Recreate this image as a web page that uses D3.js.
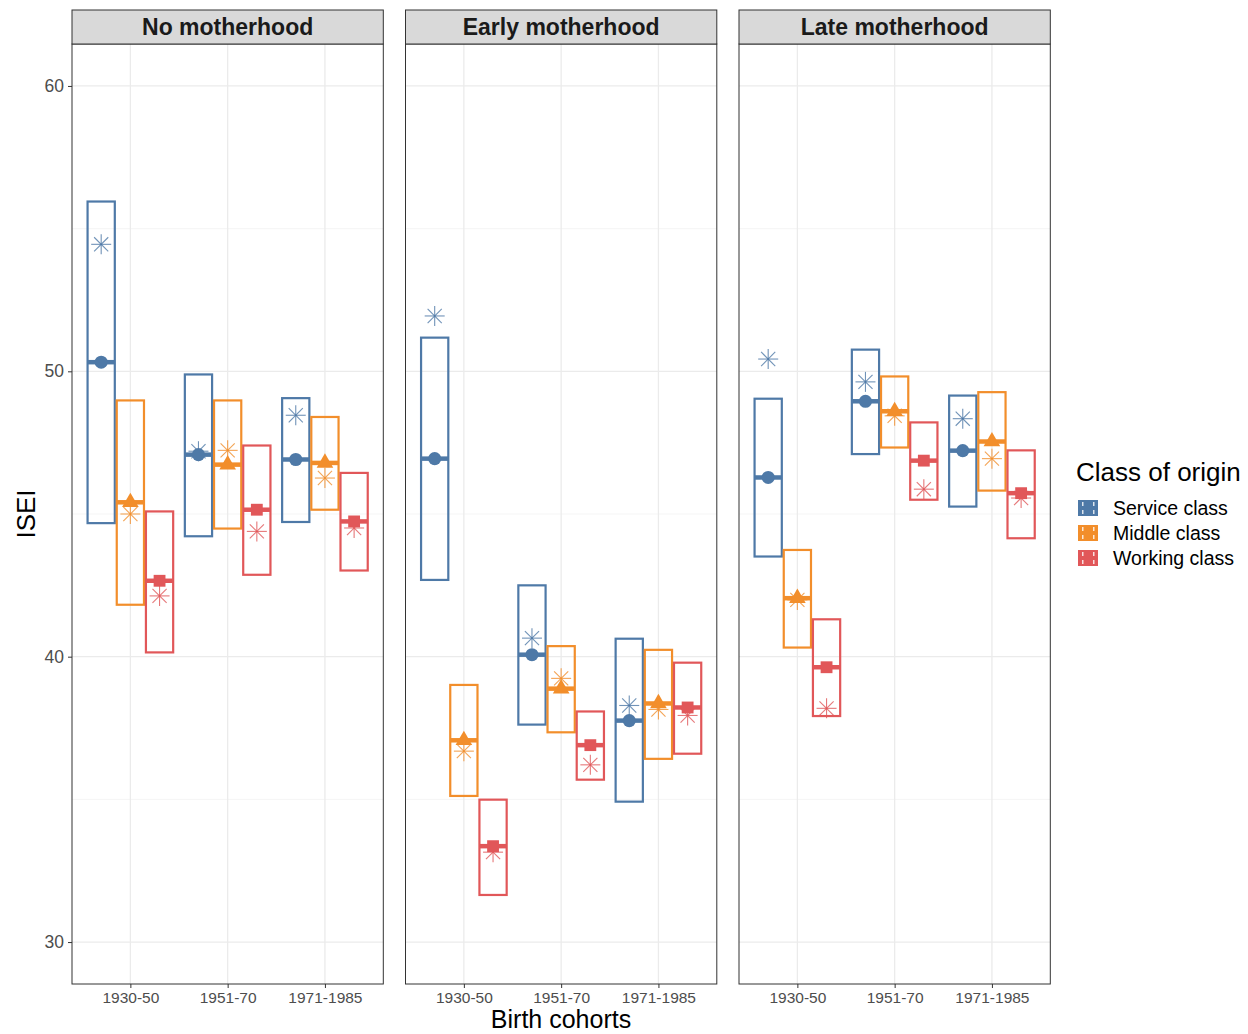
<!DOCTYPE html>
<html><head><meta charset="utf-8">
<script src="https://cdn.jsdelivr.net/npm/d3@7"></script>
<style>body{margin:0;background:#fff;} text{font-family:"Liberation Sans",Arial,Helvetica,sans-serif;}</style>
</head><body>
<svg id="c" width="1248" height="1034"></svg>
<script>
const panels = ["No motherhood", "Early motherhood", "Late motherhood"];
const cohorts = ["1930-50", "1951-70", "1971-1985"];
const classes = ["Service class", "Middle class", "Working class"];
const colors = ["#4E79A7", "#F28E2B", "#E15759"];
const yTicks = [30, 40, 50, 60];
const yMinor = [35, 45, 55];

// rows: cohorts; columns: classes
const midNo    = [[50.32, 45.41, 42.66], [47.08, 46.73, 45.15], [46.91, 46.79, 44.74]];
const lowNo    = [[44.68, 41.82, 40.15], [44.22, 44.49, 42.87], [44.72, 45.15, 43.02]];
const highNo   = [[55.95, 48.98, 45.09], [49.89, 48.98, 47.40], [49.06, 48.40, 46.44]];
const starNo   = [[54.45, 45.00, 42.13], [47.20, 47.23, 44.39], [48.46, 46.26, 44.51]];

const midEarly  = [[46.94, 37.07, 33.36], [40.07, 38.88, 36.90], [37.76, 38.36, 38.22]];
const lowEarly  = [[42.69, 35.12, 31.65], [37.62, 37.35, 35.69], [34.92, 36.42, 36.60]];
const highEarly = [[51.18, 39.01, 34.99], [42.50, 40.37, 38.08], [40.63, 40.24, 39.79]];
const starEarly = [[51.94, 36.69, 33.15], [40.65, 39.24, 36.21], [38.29, 38.15, 37.94]];

const midLate  = [[46.28, 42.05, 39.63], [48.95, 48.60, 46.87], [47.22, 47.54, 45.73]];
const lowLate  = [[43.51, 40.32, 37.92], [47.10, 47.33, 45.50], [45.26, 45.82, 44.15]];
const highLate = [[49.04, 43.74, 41.31], [50.76, 49.82, 48.21], [49.15, 49.27, 47.23]];
const starLate = [[50.43, 41.99, 38.19], [49.63, 48.44, 45.87], [48.34, 46.94, 45.56]];

const mids = [midNo, midEarly, midLate];
const lows = [lowNo, lowEarly, lowLate];
const highs = [highNo, highEarly, highLate];
const stars = [starNo, starEarly, starLate];

const svg = d3.select("#c");
const panelLeft = [72, 405.5, 739];
const panelW = 311.3;
const pTop = 44, pBottom = 984, stripTop = 10;

const y = d3.scaleLinear().domain([28.53, 61.47]).range([pBottom, pTop]);
const shapes = [d3.symbolCircle, d3.symbolTriangle, d3.symbolSquare];
const shapeSize = [135, 120, 140];

panels.forEach((pname, pi) => {
  const x0 = panelLeft[pi];
  const x = d3.scalePoint().domain(cohorts).range([x0, x0 + panelW]).padding(0.6);
  const step = x.step();
  const off = d3.scalePoint().domain(classes).range([-0.3 * step, 0.3 * step]);
  const bw = 0.28 * step;
  const g = svg.append("g");

  g.append("rect").attr("x", x0).attr("y", pTop).attr("width", panelW).attr("height", pBottom - pTop).attr("fill", "#fff");
  yMinor.forEach(v => g.append("line").attr("x1", x0).attr("x2", x0 + panelW).attr("y1", y(v)).attr("y2", y(v)).attr("stroke", "#F2F2F2").attr("stroke-width", 0.8));
  yTicks.forEach(v => g.append("line").attr("x1", x0).attr("x2", x0 + panelW).attr("y1", y(v)).attr("y2", y(v)).attr("stroke", "#EBEBEB").attr("stroke-width", 1.3));
  cohorts.forEach(c => g.append("line").attr("x1", x(c)).attr("x2", x(c)).attr("y1", pTop).attr("y2", pBottom).attr("stroke", "#EBEBEB").attr("stroke-width", 1.3));

  // stars (drawn under)
  cohorts.forEach((c, ci) => classes.forEach((k, ki) => {
    const cx = x(c) + off(k), cy = y(stars[pi][ci][ki]);
    const r = 10;
    for (let a = 0; a < 4; a++) {
      const ang = a * Math.PI / 4;
      g.append("line").attr("x1", cx - r * Math.cos(ang)).attr("y1", cy - r * Math.sin(ang))
        .attr("x2", cx + r * Math.cos(ang)).attr("y2", cy + r * Math.sin(ang))
        .attr("stroke", colors[ki]).attr("stroke-width", 1.1).attr("opacity", 0.8);
    }
  }));

  // crossbars
  cohorts.forEach((c, ci) => classes.forEach((k, ki) => {
    const cx = x(c) + off(k);
    const yl = y(lows[pi][ci][ki]), yh = y(highs[pi][ci][ki]), ym = y(mids[pi][ci][ki]);
    g.append("rect").attr("x", cx - bw / 2).attr("y", yh).attr("width", bw).attr("height", yl - yh)
      .attr("fill", "none").attr("stroke", colors[ki]).attr("stroke-width", 2.2);
    g.append("line").attr("x1", cx - bw / 2).attr("x2", cx + bw / 2).attr("y1", ym).attr("y2", ym)
      .attr("stroke", colors[ki]).attr("stroke-width", 4.5);
    g.append("path").attr("d", d3.symbol().type(shapes[ki]).size(shapeSize[ki])())
      .attr("transform", `translate(${cx},${ym})`).attr("fill", colors[ki]);
  }));

  g.append("rect").attr("x", x0).attr("y", pTop).attr("width", panelW).attr("height", pBottom - pTop)
    .attr("fill", "none").attr("stroke", "#333").attr("stroke-width", 1);
  g.append("rect").attr("x", x0).attr("y", stripTop).attr("width", panelW).attr("height", pTop - stripTop)
    .attr("fill", "#D9D9D9").attr("stroke", "#333").attr("stroke-width", 1);
  g.append("text").attr("x", x0 + panelW / 2).attr("y", 27).attr("dy", "0.35em").attr("text-anchor", "middle")
    .attr("font-size", 23).attr("font-weight", "bold").attr("fill", "#1A1A1A").text(pname);

  const xa = g.append("g").attr("transform", `translate(0,${pBottom})`)
    .call(d3.axisBottom(x).tickSize(4).tickPadding(4));
  xa.select(".domain").remove();
  xa.selectAll("line").attr("stroke", "#333");
  xa.selectAll("text").attr("font-size", 15.5).attr("fill", "#4D4D4D").attr("font-family", "Liberation Sans, Arial, sans-serif");

  if (pi === 0) {
    const ya = g.append("g").attr("transform", `translate(${x0},0)`)
      .call(d3.axisLeft(y).tickValues(yTicks).tickSize(4).tickPadding(4));
    ya.select(".domain").remove();
    ya.selectAll("line").attr("stroke", "#333");
    ya.selectAll("text").attr("font-size", 17.5).attr("fill", "#4D4D4D").attr("font-family", "Liberation Sans, Arial, sans-serif");
  }
});

svg.append("text").attr("x", 561).attr("y", 1019).attr("dy", "0.35em").attr("text-anchor", "middle")
  .attr("font-size", 25).attr("fill", "#000").text("Birth cohorts");
svg.append("text").attr("transform", "translate(26,514) rotate(-90)").attr("dy", "0.35em").attr("text-anchor", "middle")
  .attr("font-size", 26).attr("fill", "#000").text("ISEI");

const lg = svg.append("g");
lg.append("text").attr("x", 1076).attr("y", 472).attr("dy", "0.35em").attr("font-size", 26).attr("fill", "#000").text("Class of origin");
classes.forEach((k, ki) => {
  const cy = 508 + ki * 25;
  lg.append("rect").attr("x", 1078).attr("y", cy - 8).attr("width", 20).attr("height", 16).attr("fill", colors[ki]);
  [[1082, cy - 6], [1093, cy - 6], [1082, cy + 2], [1093, cy + 2]].forEach(([px, py]) =>
    lg.append("rect").attr("x", px).attr("y", py).attr("width", 1.5).attr("height", 4).attr("fill", "#fff").attr("opacity", 0.8));
  lg.append("text").attr("x", 1113).attr("y", cy).attr("dy", "0.35em").attr("font-size", 19.5).attr("fill", "#000").text(k);
});
</script>
</body></html>
